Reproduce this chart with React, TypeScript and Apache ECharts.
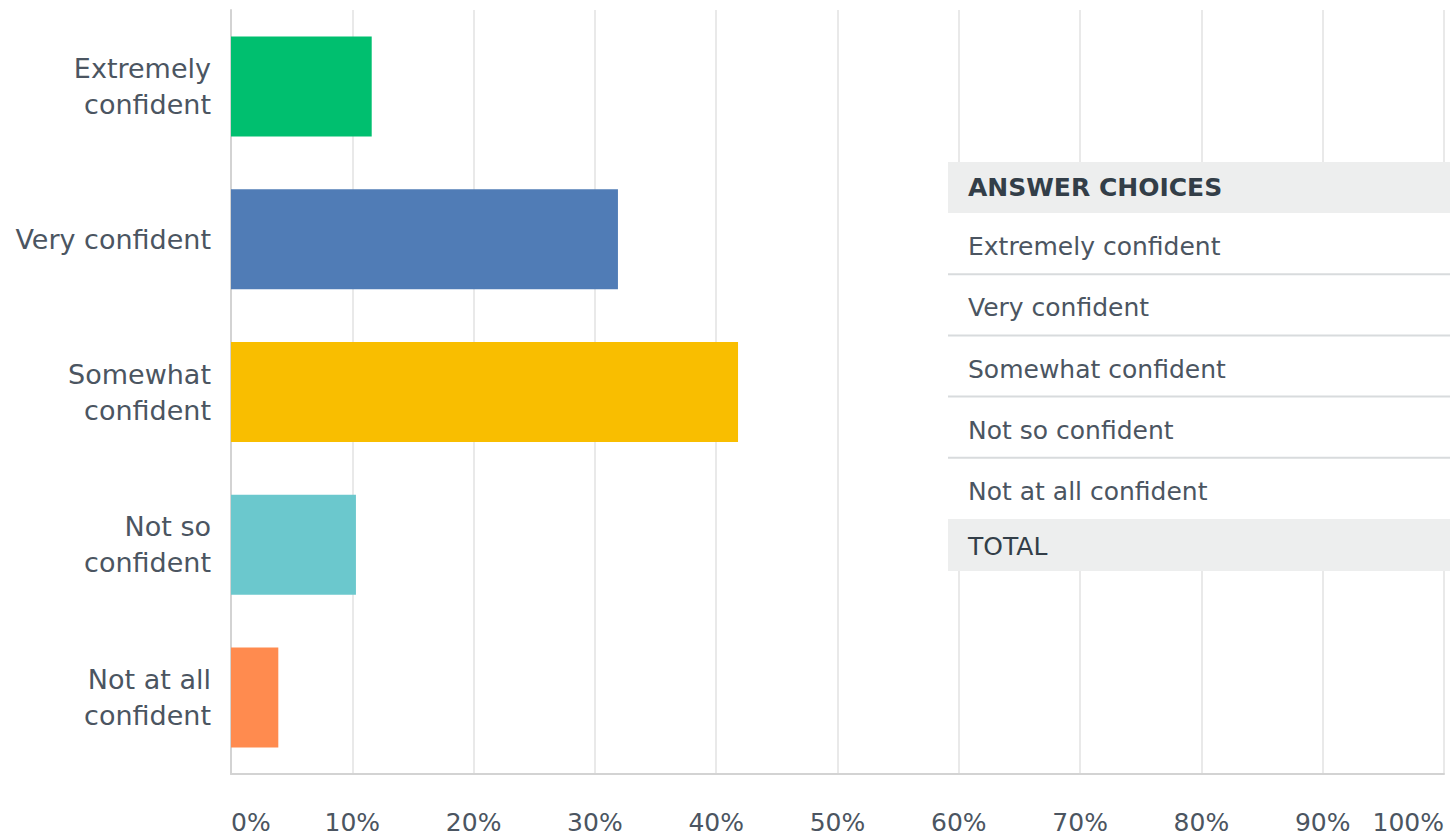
import React, { useEffect, useRef } from "react";
import * as echarts from "echarts";

const categories = [
  "Extremely\nconfident",
  "Very confident",
  "Somewhat\nconfident",
  "Not so\nconfident",
  "Not at all\nconfident",
];
const values = [11.6, 31.9, 41.8, 10.3, 3.9];
const colors = ["#00bf6f", "#507cb6", "#f9be00", "#6bc8cd", "#ff8b4f"];
const tableHeader = "ANSWER CHOICES";
const tableTotal = "TOTAL";
const xTicks = { min: 0, max: 100, interval: 10 };

const FONT = "'DejaVu Sans', sans-serif";
const TEXT = "#4b5561";
const DARK = "#333e48";

export default function App() {
  const ref = useRef<HTMLDivElement>(null);
  useEffect(() => {
    if (!ref.current) return;
    const chart = echarts.init(ref.current, null, { renderer: "svg" });

    const tx = 948;
    const tw = 502;
    const headerTop = 162;
    const headerH = 51;
    const rowH = 61.2;
    const bodyTop = headerTop + headerH;
    const rows = categories.map((c) => c.replace("\n", " "));
    const totalTop = bodyTop + rowH * rows.length;
    const graphic: any[] = [
      { type: "rect", shape: { x: tx, y: headerTop, width: tw, height: headerH }, style: { fill: "#edeeee" }, z: 100 },
      { type: "text", x: tx + 20, y: headerTop + headerH / 2, style: { text: tableHeader, font: `bold 25px ${FONT}`, fill: DARK, verticalAlign: "middle" }, z: 101 },
      { type: "rect", shape: { x: tx, y: bodyTop, width: tw, height: rowH * rows.length }, style: { fill: "#ffffff" }, z: 100 },
      { type: "rect", shape: { x: tx, y: totalTop, width: tw, height: 52 }, style: { fill: "#edeeee" }, z: 100 },
      { type: "text", x: tx + 20, y: totalTop + 27, style: { text: tableTotal, font: `25px ${FONT}`, fill: DARK, verticalAlign: "middle" }, z: 101 },
    ];
    rows.forEach((r, i) => {
      const top = bodyTop + rowH * i;
      graphic.push({ type: "text", x: tx + 20, y: top + rowH / 2 + 3, style: { text: r, font: `25px ${FONT}`, fill: TEXT, verticalAlign: "middle" }, z: 101 });
      if (i < rows.length - 1) {
        graphic.push({ type: "line", shape: { x1: tx, y1: top + rowH, x2: tx + tw, y2: top + rowH }, style: { stroke: "#d8dbdd", lineWidth: 2 }, z: 101 });
      }
    });

    chart.setOption({
      animation: false,
      grid: { left: 231, right: 6, top: 10, bottom: 61, containLabel: false },
      xAxis: {
        type: "value",
        min: xTicks.min,
        max: xTicks.max,
        interval: xTicks.interval,
        axisLine: { show: true, lineStyle: { color: "#d3d3d3", width: 2 } },
        axisTick: { show: false },
        splitLine: { show: true, lineStyle: { color: "#e9e9e9", width: 2 } },
        axisLabel: {
          formatter: "{value}%",
          margin: 37,
          fontSize: 25,
          lineHeight: 22,
          fontFamily: FONT,
          color: TEXT,
          alignMinLabel: "left",
          alignMaxLabel: "right",
        },
      },
      yAxis: {
        type: "category",
        inverse: true,
        data: categories,
        axisLine: { show: true, lineStyle: { color: "#d3d3d3", width: 2 } },
        axisTick: { show: false },
        axisLabel: { fontSize: 27, fontFamily: FONT, color: TEXT, margin: 20, lineHeight: 36, align: "right", padding: [7, 0, 0, 0] },
      },
      series: [
        {
          type: "bar",
          barWidth: 100,
          data: values.map((v, i) => ({ value: v, itemStyle: { color: colors[i] } })),
        },
      ],
      graphic,
    });
    return () => chart.dispose();
  }, []);
  return <div ref={ref} style={{ position: "absolute", left: 0, top: 0, width: 1450, height: 835 }} />;
}
